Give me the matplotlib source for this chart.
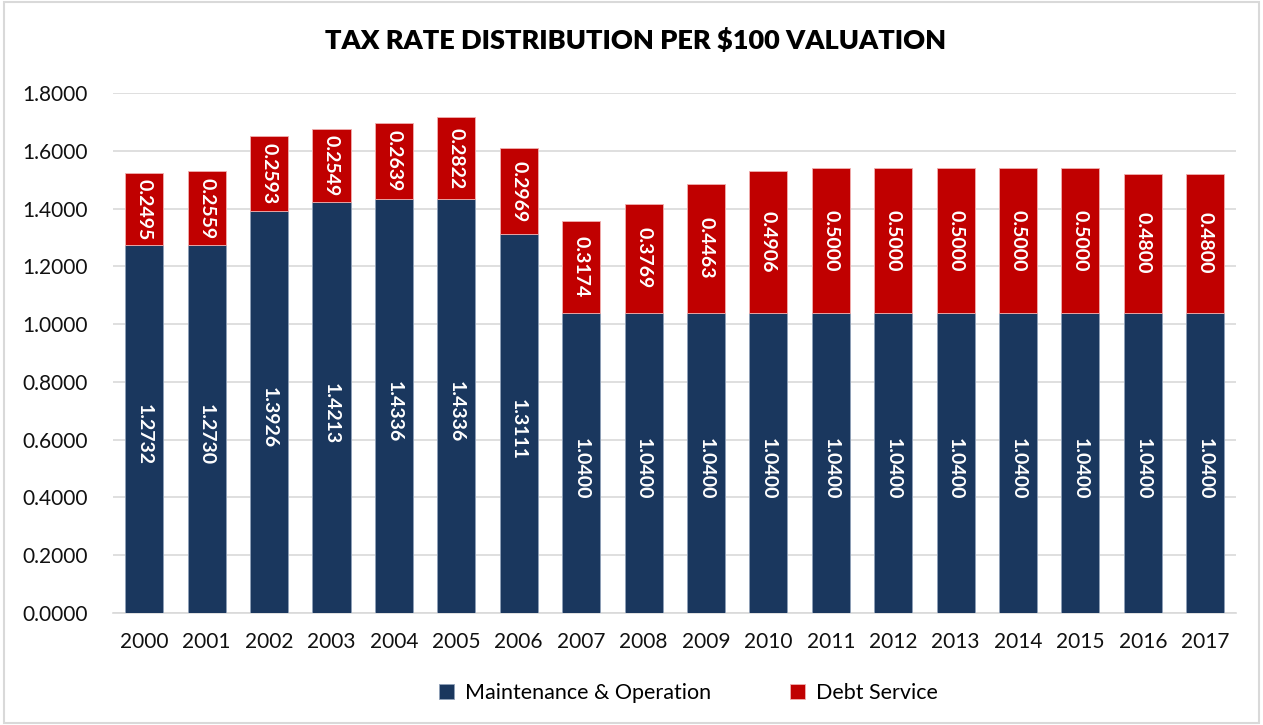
import numpy as np
import matplotlib.pyplot as plt

years = [str(y) for y in range(2000, 2018)]
maint_op = [1.2732, 1.2730, 1.3926, 1.4213, 1.4336, 1.4336, 1.3111, 1.0400, 1.0400,
            1.0400, 1.0400, 1.0400, 1.0400, 1.0400, 1.0400, 1.0400, 1.0400, 1.0400]
debt_svc = [0.2495, 0.2559, 0.2593, 0.2549, 0.2639, 0.2822, 0.2969, 0.3174, 0.3769,
            0.4463, 0.4906, 0.5000, 0.5000, 0.5000, 0.5000, 0.5000, 0.4800, 0.4800]

navy = "#1A375E"
red = "#C00000"
plt.rcParams['font.family'] = ['Lato', 'DejaVu Sans']

fig = plt.figure(figsize=(12.63, 7.25), dpi=100)
ax = fig.add_axes([0.0895, 0.1545, 0.8895, 0.7172])

x = np.arange(len(years))
w = 0.61
b1 = ax.bar(x, maint_op, w, color=navy, edgecolor="#8FA0B8", linewidth=0.6,
            label="Maintenance & Operation", zorder=3)
b2 = ax.bar(x, debt_svc, w, bottom=maint_op, color=red, edgecolor="#F0B0B0",
            linewidth=0.6, label="Debt Service", zorder=3)

for i in range(len(years)):
    ax.text(x[i], maint_op[i] / 2 - 0.02, f"{maint_op[i]:.4f}", rotation=270,
            ha="center", va="center", color="white", fontsize=14, fontweight="bold", zorder=4)
    ax.text(x[i], maint_op[i] + debt_svc[i] / 2, f"{debt_svc[i]:.4f}", rotation=270,
            ha="center", va="center", color="white", fontsize=14, fontweight="bold", zorder=4)

ax.set_xlim(-0.5, len(years) - 0.5)
ax.set_ylim(0, 1.8)
ax.set_yticks(np.arange(0, 1.81, 0.2))
ax.set_yticklabels([f"{v:.4f}" for v in np.arange(0, 1.81, 0.2)])
ax.set_xticks(x)
ax.set_xticklabels(years)
ax.tick_params(axis="both", length=0, labelsize=15, colors="#111111")
ax.tick_params(axis="x", pad=14)
ax.tick_params(axis="y", pad=18)
ax.grid(axis="y", color="#D9D9D9", linewidth=1.2, zorder=0)
for s in ["top", "right", "left"]:
    ax.spines[s].set_visible(False)
ax.spines["bottom"].set_color("#D9D9D9")
ax.spines["bottom"].set_linewidth(1.2)

fig.suptitle("TAX RATE DISTRIBUTION PER $100 VALUATION", x=0.503, y=0.962,
             fontsize=19.5, fontweight="heavy", color="#000000")
fig.legend(handles=[b1, b2], loc="center", bbox_to_anchor=(0.545, 0.044), ncol=2,
           frameon=False, fontsize=15.5, handlelength=0.7, handleheight=0.7,
           columnspacing=3.7, handletextpad=0.5)

fig.patches.append(plt.Rectangle((0.003, 0.003), 0.994, 0.994, transform=fig.transFigure,
                                 fill=False, edgecolor="#D9D9D9", linewidth=1.5))
fig.savefig("out.png", dpi=100)
